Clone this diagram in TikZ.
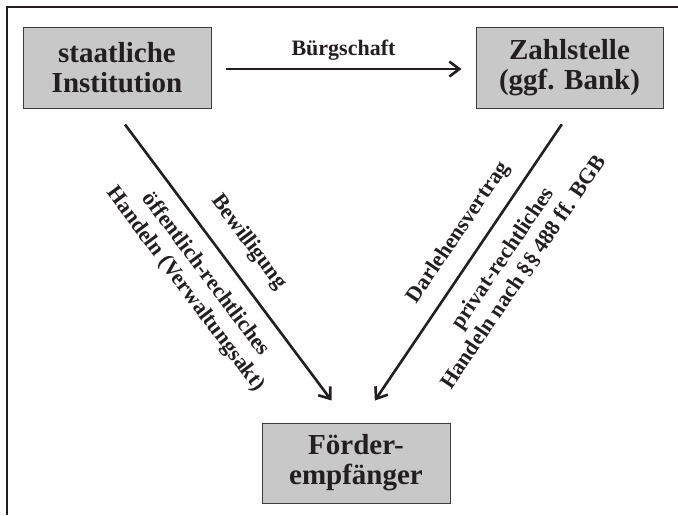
\documentclass[tikz,border=0pt]{standalone}
\usepackage{fontspec}
\setmainfont{Liberation Serif}
\usetikzlibrary{arrows.meta}
\definecolor{ink}{HTML}{231F20}
\definecolor{boxfill}{HTML}{C8C8C8}
\definecolor{boxline}{HTML}{3C3C3C}
\begin{document}
\begin{tikzpicture}[x=1pt,y=-1pt,
  box/.style={draw=boxline, line width=1pt, fill=boxfill, minimum width=188pt,
    minimum height=81pt, inner sep=0pt, align=center,
    font=\fontsize{29}{30}\selectfont\bfseries, text=ink},
  lbl/.style={font=\fontsize{22}{25}\selectfont\bfseries, text=ink, inner sep=0pt, align=center},
  arr/.style={draw=ink, line width=2.6pt, -{Straight Barb[length=10pt,width=15pt]}}]
\useasboundingbox (0,0) rectangle (678,515);
\draw[ink, line width=2pt, line join=miter] (7,515) -- (7,7) -- (678,7);
\node[box] (b1) at (117,67.5) {staatliche\\Institution};
\node[box, minimum width=187pt] (b2) at (569.5,67.5) {Zahlstelle\\(ggf. Bank)};
\node[box, minimum height=80pt] (b3) at (356,463) {Förder-\\empfänger};
\draw[arr, shorten <=14pt, shorten >=14pt] ([yshift=-1.5pt]b1.east) -- ([yshift=-1.5pt]b2.west)
  node[lbl, midway, above=7pt] (lb) {Bürgschaft};
\draw[arr, shorten <=20pt, shorten >=27.5pt] ([xshift=-4pt]b1.south) -- ([xshift=-8pt]b3.north)
  node[lbl, sloped, pos=0.48, above=17pt] (lbew) {Bewilligung}
  node[lbl, sloped, pos=0.48, below=14pt] (loer) {öffentlich-rechtliches\\Handeln (Verwaltungsakt)};
\draw[arr, shorten <=19pt, shorten >=26.5pt] ([xshift=3pt]b2.south) -- ([xshift=4pt]b3.north)
  node[lbl, sloped, pos=0.44, above=13pt] (ldar) {Darlehensvertrag}
  node[lbl, sloped, pos=0.43, below=16pt] (lpri) {privat-rechtliches\\Handeln nach §§ 488 ff. BGB};
\end{tikzpicture}
\end{document}
